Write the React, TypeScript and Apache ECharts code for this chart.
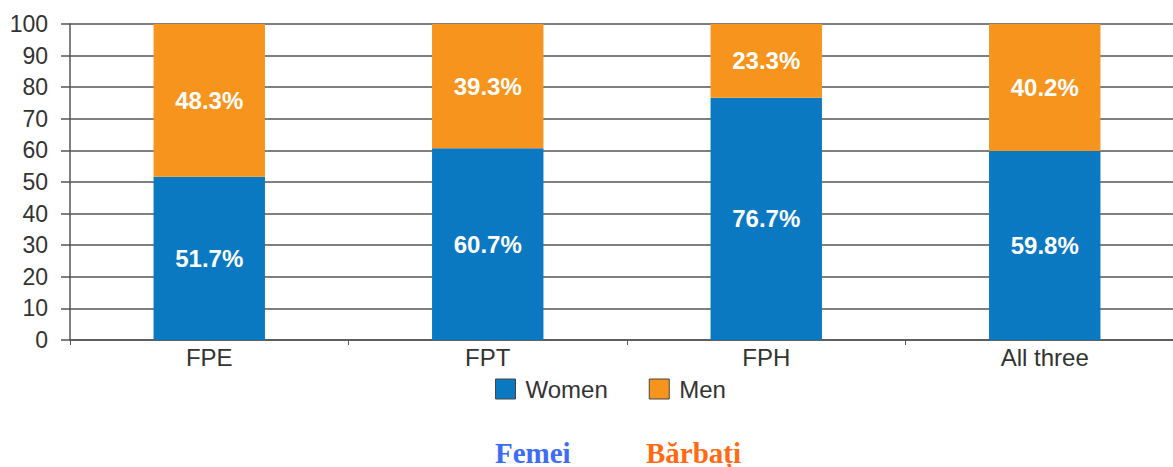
import React, { useEffect, useRef } from "react";
import * as echarts from "echarts";

const categories = ["FPE", "FPT", "FPH", "All three"];
const women = [51.7, 60.7, 76.7, 59.8];
const men = [48.3, 39.3, 23.3, 40.2];
const seriesNames = ["Women", "Men"];
const footerLabels = ["Femei", "Bărbați"];

export default function App() {
  const ref = useRef<HTMLDivElement>(null);
  useEffect(() => {
    if (!ref.current) return;
    const chart = echarts.init(ref.current, null, { renderer: "svg" });
    const font = "'Liberation Sans', Arial, sans-serif";
    const label = {
      show: true,
      position: "inside",
      color: "#fff",
      fontFamily: font,
      fontWeight: "bold",
      fontSize: 24,
      formatter: (p: any) => `${p.value}%`,
    };
    chart.setOption({
      animation: false,
      grid: { left: 70, width: 1114, top: 24, height: 316, containLabel: false },
      legend: {
        data: seriesNames,
        left: 490,
        top: 372,
        icon: "rect",
        itemWidth: 20,
        itemHeight: 20,
        itemGap: 41,
        textStyle: { fontFamily: font, fontSize: 24, color: "#333", padding: [0, 0, 0, 5] },
        itemStyle: { borderColor: "#444", borderWidth: 1 },
      },
      xAxis: {
        type: "category",
        data: categories,
        axisLine: { show: true, lineStyle: { color: "#555", width: 1.5 } },
        axisTick: { show: true, length: 5, alignWithLabel: false, lineStyle: { color: "#555" } },
        axisLabel: { fontFamily: font, fontSize: 24, color: "#333", margin: 5 },
      },
      yAxis: {
        type: "value",
        min: 0,
        max: 100,
        interval: 10,
        axisLine: { show: true, lineStyle: { color: "#555", width: 1.5 } },
        axisTick: { show: true, length: 9, lineStyle: { color: "#555", width: 1.5 } },
        splitLine: { show: true, lineStyle: { color: "#555", width: 1.5 } },
        axisLabel: { fontFamily: font, fontSize: 23, color: "#333", margin: 22 },
      },
      series: [
        {
          name: seriesNames[0],
          type: "bar",
          stack: "total",
          barWidth: "40%",
          data: women,
          itemStyle: { color: "#0a79c2" },
          label,
        },
        {
          name: seriesNames[1],
          type: "bar",
          stack: "total",
          barWidth: "40%",
          data: men,
          itemStyle: { color: "#f7941e" },
          label,
        },
      ],
      graphic: [
        {
          type: "text",
          left: 495,
          top: 438,
          style: {
            text: footerLabels[0],
            fontFamily: "'Liberation Serif', 'Times New Roman', serif",
            fontWeight: "bold",
            fontSize: 29,
            fill: "#3d6cf5",
          },
        },
        {
          type: "text",
          left: 646,
          top: 438,
          style: {
            text: footerLabels[1],
            fontFamily: "'Liberation Serif', 'Times New Roman', serif",
            fontWeight: "bold",
            fontSize: 29,
            fill: "#ff6a12",
          },
        },
      ],
    });
    return () => chart.dispose();
  }, []);
  return (
    <div
      style={{
        position: "fixed",
        left: 0,
        top: 0,
        width: 1173,
        height: 467,
        overflow: "hidden",
        background: "#fff",
      }}
    >
      <div ref={ref} style={{ width: 1200, height: 467 }} />
    </div>
  );
}
